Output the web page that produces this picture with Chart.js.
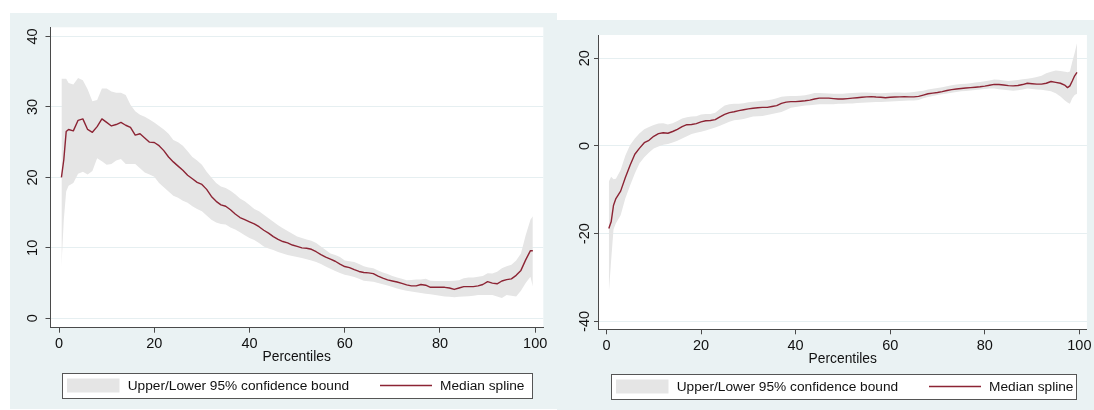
<!DOCTYPE html>
<html>
<head>
<meta charset="utf-8">
<title>Median spline by percentile</title>
<script src="https://cdn.jsdelivr.net/npm/chart.js@4.4.1/dist/chart.umd.min.js"></script>
<style>
  html, body { margin: 0; padding: 0; background: #fff; }
  body { position: relative; width: 1094px; height: 410px; overflow: hidden; }
  canvas { position: absolute; background: #eaf2f3; }
  #leftChart { left: 10px; top: 13px; }
  #rightChart { left: 557px; top: 20px; }
</style>
</head>
<body>
<canvas id="leftChart" width="547" height="396"></canvas>
<canvas id="rightChart" width="537" height="390"></canvas>
<script>
// ---- left panel ----
const pctLeft = [0.5, 1, 1.5, 2,
  3, 4, 5, 6, 7, 8, 9, 10, 11, 12,
  13, 14, 15, 16, 17, 18, 19, 20, 21, 22,
  23, 24, 25, 26, 27, 28, 29, 30, 31, 32,
  33, 34, 35, 36, 37, 38, 39, 40, 41, 42,
  43, 44, 45, 46, 47, 48, 49, 50, 51, 52,
  53, 54, 55, 56, 57, 58, 59, 60, 61, 62,
  63, 64, 65, 66, 67, 68, 69, 70, 71, 72,
  73, 74, 75, 76, 77, 78, 79, 80, 81, 82,
  83, 84, 85, 86, 87, 88, 89, 90, 91, 92,
  93, 94, 95, 96, 97, 98, 99, 99.5];
const medianLeft = [20.0, 22.5, 26.5, 26.8,
  26.6, 28.1, 28.3, 26.8, 26.4, 27.2, 28.3, 27.8, 27.3, 27.5,
  27.8, 27.4, 27.1, 26.0, 26.2, 25.6, 25.0, 24.95, 24.5, 23.8,
  22.9, 22.2, 21.6, 21.0, 20.3, 19.8, 19.3, 19.0, 18.3, 17.3,
  16.6, 16.1, 15.9, 15.4, 14.8, 14.3, 14.0, 13.7, 13.4, 13.0,
  12.5, 12.1, 11.6, 11.2, 10.9, 10.7, 10.4, 10.2, 10.0, 9.95,
  9.8, 9.45, 9.05, 8.7, 8.4, 8.1, 7.7, 7.35, 7.2, 6.9,
  6.65, 6.5, 6.45, 6.35, 6.0, 5.7, 5.45, 5.3, 5.15, 4.95,
  4.75, 4.6, 4.6, 4.8, 4.7, 4.4, 4.4, 4.4, 4.4, 4.3,
  4.1, 4.3, 4.5, 4.5, 4.5, 4.6, 4.8, 5.2, 5.0, 4.9,
  5.3, 5.5, 5.6, 6.1, 6.8, 8.3, 9.6, 9.6];
const upperLeft = [34.0, 34.0, 34.0, 33.4,
  33.2, 34.1, 33.8, 32.5, 30.8, 31.0, 32.6, 32.6, 32.2, 32.0,
  32.0, 31.7, 30.3, 29.4, 28.9, 28.6, 28.2, 27.8, 27.3, 26.8,
  26.2, 25.3, 25.0, 24.5, 23.7, 22.9, 22.4, 21.8, 20.8, 20.0,
  19.2, 18.7, 18.5, 18.1, 17.6, 17.0, 16.6, 16.1, 15.5, 15.2,
  14.7, 14.2, 13.7, 13.2, 12.8, 12.4, 12.0, 11.6, 11.4, 11.2,
  11.0, 10.7, 10.2, 9.7, 9.2, 9.0, 8.7, 8.2, 8.1, 8.0,
  7.7, 7.4, 7.2, 7.1, 6.8, 6.5, 6.3, 6.0, 5.8, 5.6,
  5.4, 5.45, 5.5, 5.5, 5.6, 5.35, 5.3, 5.3, 5.3, 5.3,
  5.35, 5.4, 5.7, 5.8, 5.8, 5.9, 6.0, 6.4, 6.35, 6.6,
  7.1, 7.4, 7.6, 8.2, 9.2, 11.8, 14.0, 14.5];
const lowerLeft = [7.3, 14.0, 18.0, 18.8,
  19.2, 20.5, 20.8, 20.4, 20.9, 22.7, 22.3, 21.8, 21.9, 22.4,
  22.6, 21.9, 21.9, 21.9, 21.3, 20.7, 20.4, 20.1, 19.2, 18.6,
  18.0, 17.4, 17.1, 16.7, 16.4, 15.9, 15.5, 15.2, 14.6, 14.0,
  13.6, 13.4, 13.3, 12.9, 12.6, 12.2, 11.8, 11.4, 11.1, 10.7,
  10.2, 9.9, 9.7, 9.4, 9.2, 9.0, 8.85, 8.7, 8.55, 8.4,
  8.2, 8.0, 7.7, 7.35, 7.05, 6.7, 6.45, 6.2, 6.05, 5.85,
  5.6, 5.35, 5.25, 5.2, 5.0, 4.85, 4.65, 4.45, 4.25, 4.05,
  3.9, 3.8, 3.7, 3.6, 3.5, 3.4, 3.3, 3.2, 3.1, 3.05,
  3.0, 3.05, 3.1, 3.15, 3.2, 3.3, 3.3, 3.3, 3.3, 3.1,
  2.9, 3.3, 3.2, 3.1, 3.9, 5.0, 5.9, 4.5];
const yTicksLeft = [0, 10, 20, 30, 40];

// ---- right panel ----
const pctRight = [0.5, 1, 1.5, 2,
  3, 4, 5, 6, 7, 8, 9, 10, 11, 12,
  13, 14, 15, 16, 17, 18, 19, 20, 21, 22,
  23, 24, 25, 26, 27, 28, 29, 30, 31, 32,
  33, 34, 35, 36, 37, 38, 39, 40, 41, 42,
  43, 44, 45, 46, 47, 48, 49, 50, 51, 52,
  53, 54, 55, 56, 57, 58, 59, 60, 61, 62,
  63, 64, 65, 66, 67, 68, 69, 70, 71, 72,
  73, 74, 75, 76, 77, 78, 79, 80, 81, 82,
  83, 84, 85, 86, 87, 88, 89, 90, 91, 92,
  93, 94, 95, 96, 97, 97.5, 98, 98.5, 99, 99.5];
const medianRight = [-18.8, -17.3, -13.5, -12.0,
  -10.3, -7.2, -4.4, -1.9, -0.5, 0.75, 1.3, 2.2, 2.8, 3.0,
  2.9, 3.3, 3.8, 4.4, 4.85, 4.9, 5.1, 5.5, 5.75, 5.8,
  6.0, 6.65, 7.2, 7.6, 7.8, 8.05, 8.25, 8.45, 8.6, 8.7,
  8.8, 8.8, 9.0, 9.2, 9.7, 10.0, 10.1, 10.1, 10.2, 10.3,
  10.45, 10.7, 10.9, 10.9, 10.9, 10.8, 10.7, 10.7, 10.8, 10.9,
  11.0, 11.1, 11.2, 11.25, 11.15, 11.1, 11.0, 11.1, 11.15, 11.2,
  11.25, 11.2, 11.2, 11.3, 11.6, 11.9, 12.05, 12.2, 12.4, 12.65,
  12.85, 13.0, 13.1, 13.2, 13.3, 13.4, 13.5, 13.65, 13.85, 14.05,
  14.0, 13.9, 13.75, 13.7, 13.8, 14.0, 14.3, 14.2, 14.1, 14.1,
  14.3, 14.7, 14.5, 14.3, 13.8, 13.3, 13.7, 14.8, 16.0, 16.8];
const upperRight = [-8.1, -7.0, -7.6, -7.5,
  -5.5, -2.2, 0.2, 1.7, 2.9, 3.8, 4.35, 4.8, 5.1, 5.2,
  4.9, 5.2, 5.7, 6.25, 6.55, 6.7, 6.75, 7.2, 7.3, 7.3,
  7.6, 8.4, 9.2, 9.5, 9.6, 9.65, 9.75, 9.95, 10.1, 10.2,
  10.3, 10.4, 10.6, 10.9, 11.2, 11.35, 11.4, 11.4, 11.45, 11.55,
  11.8, 12.1, 12.1, 12.0, 11.95, 11.9, 11.9, 11.9, 12.0, 12.1,
  12.15, 12.2, 12.2, 12.15, 12.1, 12.0, 12.1, 12.15, 12.2, 12.2,
  12.15, 12.2, 12.3, 12.45, 12.6, 12.85, 13.05, 13.2, 13.4, 13.6,
  13.85, 14.0, 14.1, 14.2, 14.3, 14.45, 14.6, 14.75, 14.95, 15.15,
  15.1, 14.95, 14.8, 14.9, 15.05, 15.2, 15.35, 15.5, 15.7, 16.0,
  16.6, 16.9, 17.2, 17.1, 16.9, 16.8, 17.0, 19.2, 21.2, 23.4];
const lowerRight = [-33.6, -26.0, -19.0, -17.6,
  -15.8, -11.9, -9.0, -6.3, -3.95, -2.6, -1.5, -0.6, -0.1, 0.25,
  0.45, 0.8, 1.2, 1.7, 2.2, 2.7, 3.0, 3.25, 3.5, 3.85,
  4.2, 4.6, 5.05, 5.5, 5.85, 6.0, 6.15, 6.45, 6.7, 6.8,
  6.85, 7.05, 7.3, 7.5, 7.75, 8.2, 8.7, 8.9, 9.05, 9.2,
  9.3, 9.4, 9.5, 9.5, 9.5, 9.5, 9.6, 9.65, 9.7, 9.7,
  9.8, 9.85, 9.9, 9.95, 10.0, 10.05, 10.1, 10.15, 10.2, 10.25,
  10.3, 10.35, 10.35, 10.5, 10.9, 11.15, 11.4, 11.6, 11.8, 11.95,
  12.15, 12.3, 12.45, 12.55, 12.65, 12.75, 12.9, 13.0, 13.1, 13.1,
  12.95, 12.8, 12.7, 12.6, 12.7, 12.9, 13.1, 13.0, 12.9, 12.8,
  12.65, 12.45, 12.0, 11.3, 10.3, 9.9, 9.6, 10.9, 11.6, 11.9];
const yTicksRight = [-40, -20, 0, 20];

const xTicks = [0, 20, 40, 60, 80, 100];

const LINE_COLOR = '#8c2434';
const BAND_COLOR = '#e5e5e5';
const AXIS_COLOR = '#4a4a4a';
const GRID_COLOR = '#e6eff1';
const TEXT_COLOR = '#111';
const FONT = '"Liberation Sans", Arial, sans-serif';

Chart.defaults.font.family = FONT;

// white plot region on top of the tinted canvas
const plotBackground = {
  id: 'plotBackground',
  beforeDraw(chart) {
    const { ctx, chartArea: a } = chart;
    ctx.save();
    ctx.fillStyle = '#fff';
    ctx.fillRect(a.left, a.top, a.right - a.left, a.bottom - a.top);
    ctx.restore();
  }
};

// framed legend under the axis title: band swatch + line sample
const boxLegend = {
  id: 'boxLegend',
  afterDraw(chart) {
    const { ctx, chartArea: a } = chart;
    const band = chart.data.datasets[1];
    const line = chart.data.datasets[0];
    const left = Math.round(a.left + 12), right = Math.round(a.right - 11);
    const top = Math.round(a.bottom + 45), h = 25;
    const mid = top + h / 2;
    ctx.save();
    ctx.fillStyle = '#fff';
    ctx.fillRect(left, top, right - left, h);
    ctx.strokeStyle = '#555';
    ctx.lineWidth = 1;
    ctx.strokeRect(left + 0.5, top + 0.5, right - left, h);
    ctx.fillStyle = band.backgroundColor;
    ctx.fillRect(left + 5, mid - 7, 52.5, 14);
    ctx.strokeStyle = line.borderColor;
    ctx.lineWidth = 1.5;
    ctx.beginPath();
    ctx.moveTo(left + 318, mid);
    ctx.lineTo(left + 370, mid);
    ctx.stroke();
    ctx.fillStyle = TEXT_COLOR;
    ctx.font = '13.7px ' + FONT;
    ctx.textBaseline = 'middle';
    ctx.fillText(band.label, left + 65.7, mid + 0.5);
    ctx.fillText(line.label, left + 378, mid + 0.5);
    ctx.restore();
  }
};

function percentileChart(id, pct, median, upper, lower, yTicks, cfg) {
  const pts = vals => pct.map((p, i) => ({ x: p, y: vals[i] }));
  return new Chart(document.getElementById(id), {
    type: 'line',
    data: {
      datasets: [
        { label: 'Median spline', data: pts(median), borderColor: LINE_COLOR, borderWidth: 1.4,
          borderJoinStyle: 'round', pointRadius: 0, fill: false, tension: 0 },
        { label: 'Upper/Lower 95% confidence bound', data: pts(upper), borderColor: 'rgba(0,0,0,0)',
          borderWidth: 0, backgroundColor: BAND_COLOR, pointRadius: 0, fill: '+1', tension: 0 },
        { label: 'Lower bound', data: pts(lower), borderColor: 'rgba(0,0,0,0)',
          borderWidth: 0, pointRadius: 0, fill: false, tension: 0 }
      ]
    },
    options: {
      responsive: false,
      animation: false,
      events: [],
      layout: { padding: cfg.padding },
      plugins: { legend: { display: false }, tooltip: { enabled: false } },
      scales: {
        x: {
          type: 'linear', min: cfg.xMin, max: cfg.xMax,
          afterBuildTicks: s => { s.ticks = xTicks.map(v => ({ value: v })); },
          afterFit: s => { s.height = 40; },
          grid: { drawOnChartArea: false, tickLength: 5, tickColor: AXIS_COLOR },
          border: { color: AXIS_COLOR, width: 1 },
          ticks: { color: TEXT_COLOR, font: { size: 14.5 }, padding: 2.5, maxRotation: 0, autoSkip: false },
          title: { display: true, text: 'Percentiles', color: TEXT_COLOR, font: { size: 13.8 },
                   padding: { top: 0, bottom: 1.8 } }
        },
        y: {
          type: 'linear', min: cfg.yMin, max: cfg.yMax,
          afterBuildTicks: s => { s.ticks = yTicks.map(v => ({ value: v })); },
          afterFit: s => { s.width = 30; },
          grid: { color: GRID_COLOR, tickLength: 4.5, tickColor: AXIS_COLOR },
          border: { color: AXIS_COLOR, width: 1 },
          ticks: { color: TEXT_COLOR, font: { size: 14.5 }, minRotation: 90, maxRotation: 90,
                   crossAlign: 'center', padding: cfg.yTickPad, autoSkip: false }
        }
      }
    },
    plugins: [plotBackground, boxLegend]
  });
}

percentileChart('leftChart', pctLeft, medianLeft, upperLeft, lowerLeft, yTicksLeft, {
  xMin: -1.9, xMax: 101.7, yMin: -1.33, yMax: 41.3, yTickPad: 4.4,
  padding: { left: 10, top: 14.3, right: 13.7, bottom: 41.3 }
});

percentileChart('rightChart', pctRight, medianRight, upperRight, lowerRight, yTicksRight, {
  xMin: -1.68, xMax: 101.6, yMin: -41.8, yMax: 25.3, yTickPad: -1.4,
  padding: { left: 11.5, top: 15, right: 2.5, bottom: 40.7 }
});
</script>
</body>
</html>
